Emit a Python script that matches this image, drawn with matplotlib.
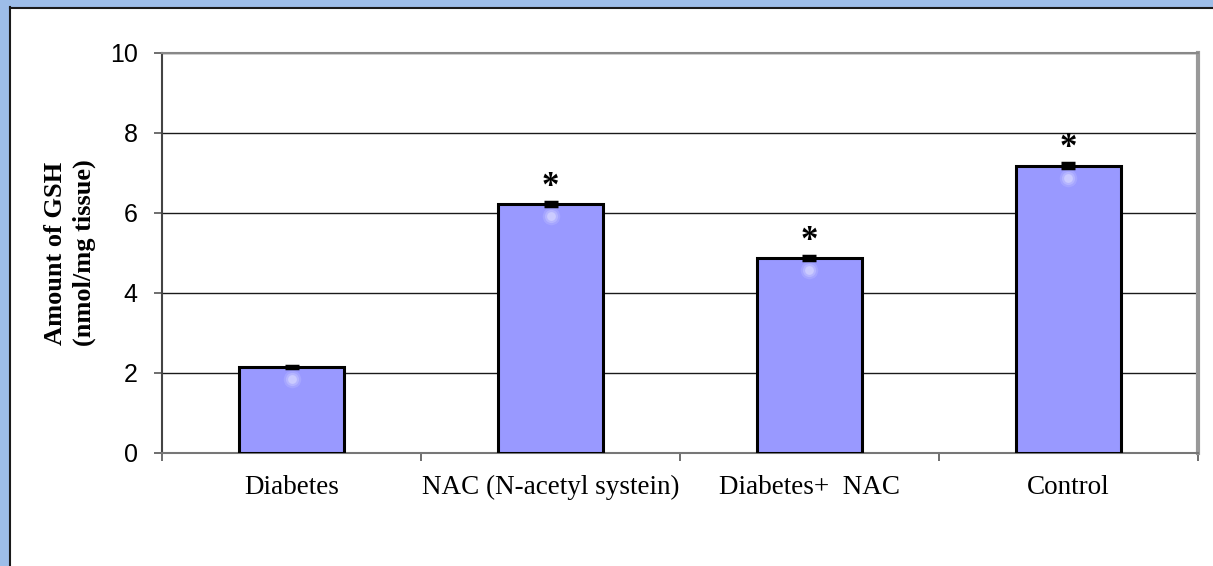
import matplotlib
matplotlib.use("Agg")
import matplotlib.pyplot as plt
from matplotlib.patches import Rectangle
import numpy as np

groups = ["Diabetes", "NAC (N-acetyl systein)", "Diabetes+  NAC", "Control"]
gsh = [2.15, 6.22, 4.88, 7.18]
sem = [0.03, 0.05, 0.05, 0.06]
marked = [False, True, True, True]

W, H = 1213, 566
fig = plt.figure(figsize=(W / 100, H / 100), dpi=100)

# blue window frame on left and top
fig.patches.append(Rectangle((0, 0), 9 / W, 1, transform=fig.transFigure,
                             color="#9dbde8", zorder=0))
fig.patches.append(Rectangle((0, 1 - 7 / H), 1, 7 / H, transform=fig.transFigure,
                             color="#9dbde8", zorder=0))
fig.lines.append(plt.Line2D([9.5 / W, 9.5 / W], [0, 1 - 7 / H], transform=fig.transFigure,
                            color="#1a1a1a", lw=1.5))
fig.lines.append(plt.Line2D([9.5 / W, 1], [1 - 7.5 / H, 1 - 7.5 / H], transform=fig.transFigure,
                            color="#1a1a1a", lw=1.5))

left, right, top, bottom = 162, 1198, 53, 453
ax = fig.add_axes([left / W, 1 - bottom / H, (right - left) / W, (bottom - top) / H])

x = np.arange(len(groups))
ax.bar(x, gsh, width=0.405, color="#9999ff", edgecolor="black", linewidth=2.2, zorder=3)
ax.errorbar(x, gsh, yerr=sem, fmt="none", ecolor="black", elinewidth=2,
            capsize=5, capthick=2.5, zorder=4)

# soft highlight near the top of each bar
for xi, v in zip(x, gsh):
    for r, a in [(160, 0.12), (90, 0.18), (40, 0.3)]:
        ax.scatter(xi, v - 0.3, s=r, color="white", alpha=a, linewidths=0, zorder=3.5)

for xi, v, e, m in zip(x, gsh, sem, marked):
    if m:
        ax.text(xi, v + e - 0.05, "*", ha="center", va="bottom", fontsize=25,
                fontweight="bold", family="Liberation Serif", zorder=5)

ax.set_xlim(-0.5, len(groups) - 0.5)
ax.set_ylim(0, 10)
ax.set_yticks(range(0, 11, 2))
ax.set_yticklabels([str(t) for t in range(0, 11, 2)], family="Liberation Sans", fontsize=18)
ax.yaxis.grid(True, color="#1a1a1a", lw=1.0, zorder=0)
ax.set_axisbelow(True)

ax.set_xticks(x)
ax.set_xticklabels(groups, family="Liberation Serif", fontsize=19.5)
ax.tick_params(axis="x", length=0, pad=16)
ax.set_xticks(np.arange(-0.5, len(groups)), minor=True)
ax.tick_params(axis="x", which="minor", length=6, width=1.2, color="#555555", direction="out")
ax.tick_params(axis="y", length=6, width=1.2, color="#555555", pad=11.5)

ax.spines["left"].set_color("#444444")
ax.spines["left"].set_linewidth(1.5)
ax.spines["bottom"].set_color("#777777")
ax.spines["bottom"].set_linewidth(1.5)
ax.spines["top"].set_color("#888888")
ax.spines["top"].set_linewidth(1.5)
ax.spines["right"].set_color("#999999")
ax.spines["right"].set_linewidth(3)

ax.set_ylabel("Amount of GSH\n(nmol/mg tissue)", family="Liberation Serif",
              fontweight="bold", fontsize=19, labelpad=10, linespacing=1.3)

fig.savefig("out.png", dpi=100)
